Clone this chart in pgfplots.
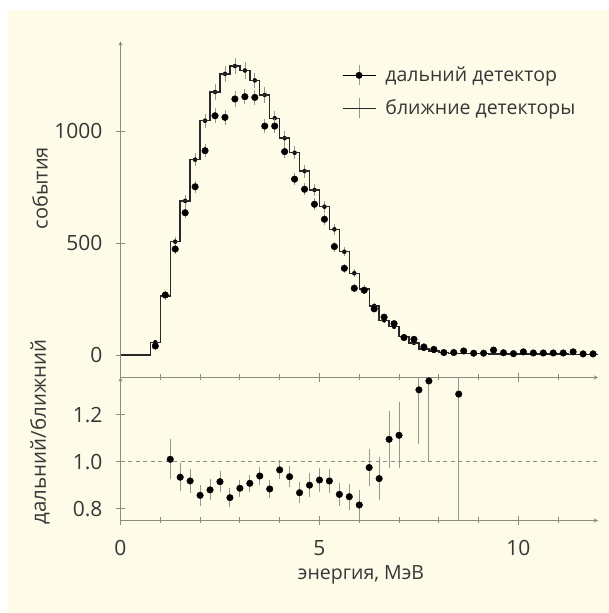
\documentclass[border=0pt]{standalone}
\usepackage{fontspec}
\setmainfont{Open Sans}
\usepackage{pgfplots}
\pgfplotsset{compat=1.18}
\definecolor{cream}{RGB}{255,251,233}
\definecolor{axgray}{RGB}{140,138,128}
\definecolor{txt}{RGB}{55,55,55}
\definecolor{errgray}{RGB}{150,150,145}
\definecolor{histline}{RGB}{40,40,40}
\begin{document}
\begin{tikzpicture}[x=1pt,y=1pt]
\fill[white] (0,0) rectangle (609,613);
\fill[cream] (8,0) rectangle (609,603);
\useasboundingbox (0,0) rectangle (609,613);
\pgfplotsset{
 every axis/.append style={
  scale only axis, width=477.5pt, anchor=south west,
  xmin=0, xmax=12,
  axis line style={-, axgray, line width=0.9pt},
  tick style={axgray, line width=0.9pt},
  tick align=outside,
  major tick length=9pt, minor tick length=6pt,
  ticklabel style={font=\fontsize{21}{24}\selectfont, text=txt},
  clip mode=individual,
  axis x line=bottom, axis y line=left,
  xtick={0,5,10}, minor xtick={1,2,3,4,6,7,8,9,11},
 }
}
% ---------------- top panel
\begin{axis}[at={(120.5pt,235.6pt)}, height=336pt, ymin=-100, ymax=1400,
 xticklabels={}, ytick={0,500,1000}, yticklabels={0,500,1000},
 yticklabel style={xshift=-10pt},
 legend style={draw=none, fill=none, at={(axis cs:5.5,1305)}, anchor=north west,
   font=\fontsize{19.5}{22}\selectfont, text=txt, row sep=12pt},
 legend cell align=left]
\addlegendimage{legend image code/.code={
  \draw[errgray, line width=0.9pt] (16pt,-10pt) -- (16pt,10pt);
  \draw[black, line width=0.9pt] (0pt,0pt) -- (33pt,0pt);
  \fill[black] (16pt,0pt) circle (3.2pt);}}
\addlegendentry{\hspace{7pt}дальний детектор}
\addlegendimage{legend image code/.code={
  \draw[errgray, line width=0.9pt] (16pt,-10pt) -- (16pt,10pt);
  \draw[histline, line width=0.9pt] (0pt,0pt) -- (33pt,0pt);}}
\addlegendentry{\hspace{7pt}ближние детекторы}
% near error bars
\addplot[forget plot, only marks, mark=none, error bars/.cd, y dir=both, y explicit,
  error mark=none, error bar style={errgray, line width=0.7pt}] coordinates {
 (0.875,57) +- (0,8) (1.125,263) +- (0,16) (1.375,506) +- (0,22) (1.625,688) +- (0,26)
 (1.875,872) +- (0,30) (2.125,1046) +- (0,32) (2.375,1174) +- (0,34) (2.625,1255) +- (0,35)
 (2.875,1290) +- (0,36) (3.125,1270) +- (0,36) (3.375,1226) +- (0,35) (3.625,1161) +- (0,34)
 (3.875,1057) +- (0,33) (4.125,968) +- (0,31) (4.375,903) +- (0,30) (4.625,821) +- (0,29)
 (4.875,737) +- (0,27) (5.125,662) +- (0,26) (5.375,561) +- (0,24) (5.625,461) +- (0,21)
 (5.875,365) +- (0,19) (6.125,295) +- (0,17) (6.375,219) +- (0,15) (6.625,155) +- (0,13)
 (6.875,126) +- (0,11) (7.125,82) +- (0,9) (7.375,54) +- (0,7) (7.625,27) +- (0,5)
 (7.875,18) +- (0,4)};
% near histogram
\addplot[forget plot, const plot, histline, line width=1.4pt, mark=none] coordinates {
 (0,0) (0.75,57) (1.0,263) (1.25,506) (1.5,688) (1.75,872) (2.0,1046) (2.25,1174)
 (2.5,1255) (2.75,1290) (3.0,1270) (3.25,1226) (3.5,1161) (3.75,1057) (4.0,968)
 (4.25,903) (4.5,821) (4.75,737) (5.0,662) (5.25,561) (5.5,461) (5.75,365) (6.0,295)
 (6.25,219) (6.5,155) (6.75,126) (7.0,82) (7.25,54) (7.5,27) (7.75,18) (8.0,11)
 (8.25,8) (8.5,7) (8.75,6) (9.0,6) (9.25,5) (9.5,5) (9.75,5) (10.0,4) (10.25,4)
 (10.5,4) (10.75,4) (11.0,4) (11.25,3) (11.5,3) (11.75,3) (12.0,3)};
% far detector
\addplot[forget plot, only marks, mark=*, mark size=3.3pt, black,
  error bars/.cd, y dir=both, y explicit, error mark=none,
  error bar style={errgray, line width=0.8pt}] coordinates {
 (0.875,40) +- (0,6) (1.125,268) +- (0,16) (1.375,473) +- (0,22) (1.625,635) +- (0,25)
 (1.875,751) +- (0,27) (2.125,912) +- (0,30) (2.375,1068) +- (0,33) (2.625,1061) +- (0,33)
 (2.875,1143) +- (0,34) (3.125,1153) +- (0,34) (3.375,1150) +- (0,34) (3.625,1022) +- (0,32)
 (3.875,1022) +- (0,32) (4.125,908) +- (0,30) (4.375,785) +- (0,28) (4.625,740) +- (0,27)
 (4.875,673) +- (0,26) (5.125,606) +- (0,25) (5.375,484) +- (0,22) (5.625,387) +- (0,20)
 (5.875,298) +- (0,17) (6.125,289) +- (0,17) (6.375,206) +- (0,14) (6.625,169) +- (0,13)
 (6.875,140) +- (0,12) (7.125,78) +- (0,9) (7.375,70) +- (0,8) (7.625,36) +- (0,6)
 (7.875,25) +- (0,5) (8.125,11) +- (0,3) (8.375,11) +- (0,3) (8.625,18) +- (0,4)
 (8.875,8) +- (0,3) (9.125,8) +- (0,3) (9.375,22) +- (0,4) (9.625,10) +- (0,3)
 (9.875,6) +- (0,2) (10.125,14) +- (0,4) (10.375,9) +- (0,3) (10.625,9) +- (0,3)
 (10.875,9) +- (0,3) (11.125,9) +- (0,3) (11.375,14) +- (0,4) (11.625,5) +- (0,2)
 (11.875,5) +- (0,2)};
\end{axis}
% ---------------- bottom panel
\begin{axis}[at={(120.5pt,92.5pt)}, height=143.1pt, ymin=0.75, ymax=1.358,
 xticklabels={0,5,10}, ytick={0.8,1.0,1.2}, yticklabels={0.8,1.0,1.2},
 yticklabel style={xshift=-10pt}, xticklabel style={yshift=-12pt}]
\addplot[forget plot, axgray, dash pattern=on 4pt off 3.5pt, line width=0.9pt, mark=none]
 coordinates {(0,1) (12,1)};
\addplot[only marks, mark=*, mark size=3.3pt, black,
  error bars/.cd, y dir=both, y explicit, error mark=none,
  error bar style={errgray, line width=0.9pt}] coordinates {
 (1.25,1.010) +- (0,0.085) (1.5,0.934) +- (0,0.06) (1.75,0.918) +- (0,0.05)
 (2.0,0.857) +- (0,0.045) (2.25,0.880) +- (0,0.045) (2.5,0.915) +- (0,0.045)
 (2.75,0.847) +- (0,0.04) (3.0,0.887) +- (0,0.037) (3.25,0.908) +- (0,0.037)
 (3.5,0.939) +- (0,0.037) (3.75,0.884) +- (0,0.04) (4.0,0.965) +- (0,0.04)
 (4.25,0.936) +- (0,0.045) (4.5,0.868) +- (0,0.045) (4.75,0.900) +- (0,0.05)
 (5.0,0.922) +- (0,0.05) (5.25,0.918) +- (0,0.05) (5.5,0.861) +- (0,0.05)
 (5.75,0.851) +- (0,0.055) (6.0,0.816) +- (0,0.065) (6.25,0.975) +- (0,0.08)
 (6.5,0.928) +- (0,0.09) (6.75,1.095) +- (0,0.12) (7.0,1.112) +- (0,0.14)
 (7.5,1.305) +- (0,0.23) (7.75,1.343) +- (0,0.34) (8.5,1.287) +- (0,0.6)};
\end{axis}
\node[rotate=90, text=txt, font=\fontsize{20}{22}\selectfont] at (40,425) {события};
\node[rotate=90, text=txt, font=\fontsize{20.5}{22}\selectfont] at (40,181) {дальний/ближний};
\node[text=txt, font=\fontsize{19.5}{22}\selectfont] at (361,38) {энергия, МэВ};
\end{tikzpicture}
\end{document}
